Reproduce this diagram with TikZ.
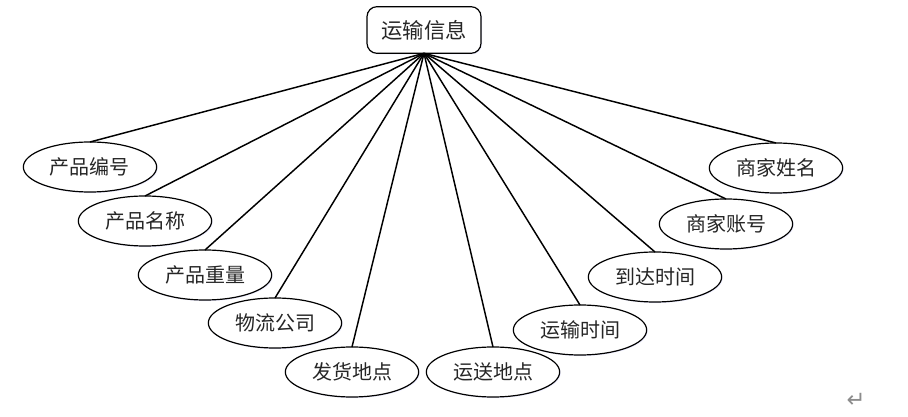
\documentclass[tikz,border=0pt]{standalone}
\usepackage{fontspec}
\newfontfamily\cjk{Noto Sans CJK SC}
\newfontfamily\dejavu{DejaVu Sans}
\usetikzlibrary{shapes.geometric,shadows}
\begin{document}
\begin{tikzpicture}[x=0.75pt,y=-0.75pt,
  attr/.style={ellipse,draw=black,line width=0.9pt,fill=white,inner sep=0pt,outer sep=0pt,
    minimum width=100pt,minimum height=37.5pt,font=\cjk\fontsize{15}{18}\selectfont,text=black!85,
    drop shadow={shadow xshift=0.8pt,shadow yshift=-0.8pt,opacity=0.18,fill=blue!40}},
  entity/.style={rectangle,rounded corners=7.5pt,draw=black,line width=0.9pt,fill=white,inner sep=0pt,outer sep=0pt,
    minimum width=85.5pt,minimum height=35pt,font=\cjk\fontsize{16}{19}\selectfont,text=black!85,
    drop shadow={shadow xshift=0.8pt,shadow yshift=-0.8pt,opacity=0.18,fill=blue!40}},
  link/.style={draw=black,line width=1.1pt}]
\useasboundingbox (0,0) rectangle (908,417);
\node[entity] (top) at (424,30) {运输信息};
\node[attr] (a1) at (90,167) {产品编号};
\node[attr] (a2) at (145,221) {产品名称};
\node[attr] (a3) at (205,275) {产品重量};
\node[attr] (a4) at (275,323) {物流公司};
\node[attr] (a5) at (352,372) {发货地点};
\node[attr] (a6) at (493,372) {运送地点};
\node[attr] (a7) at (580,330) {运输时间};
\node[attr] (a8) at (655,277) {到达时间};
\node[attr] (a9) at (726,224) {商家账号};
\node[attr] (a10) at (776,168) {商家姓名};
\foreach \n in {a1,a2,a3,a4,a5,a6,a7,a8,a9,a10}{
  \draw[link] (top.south) -- (\n.north);
}
\node[font=\dejavu\fontsize{17}{18}\selectfont,text=black!45,inner sep=0pt] (ret) at (856,400) {↵};
\end{tikzpicture}
\end{document}
